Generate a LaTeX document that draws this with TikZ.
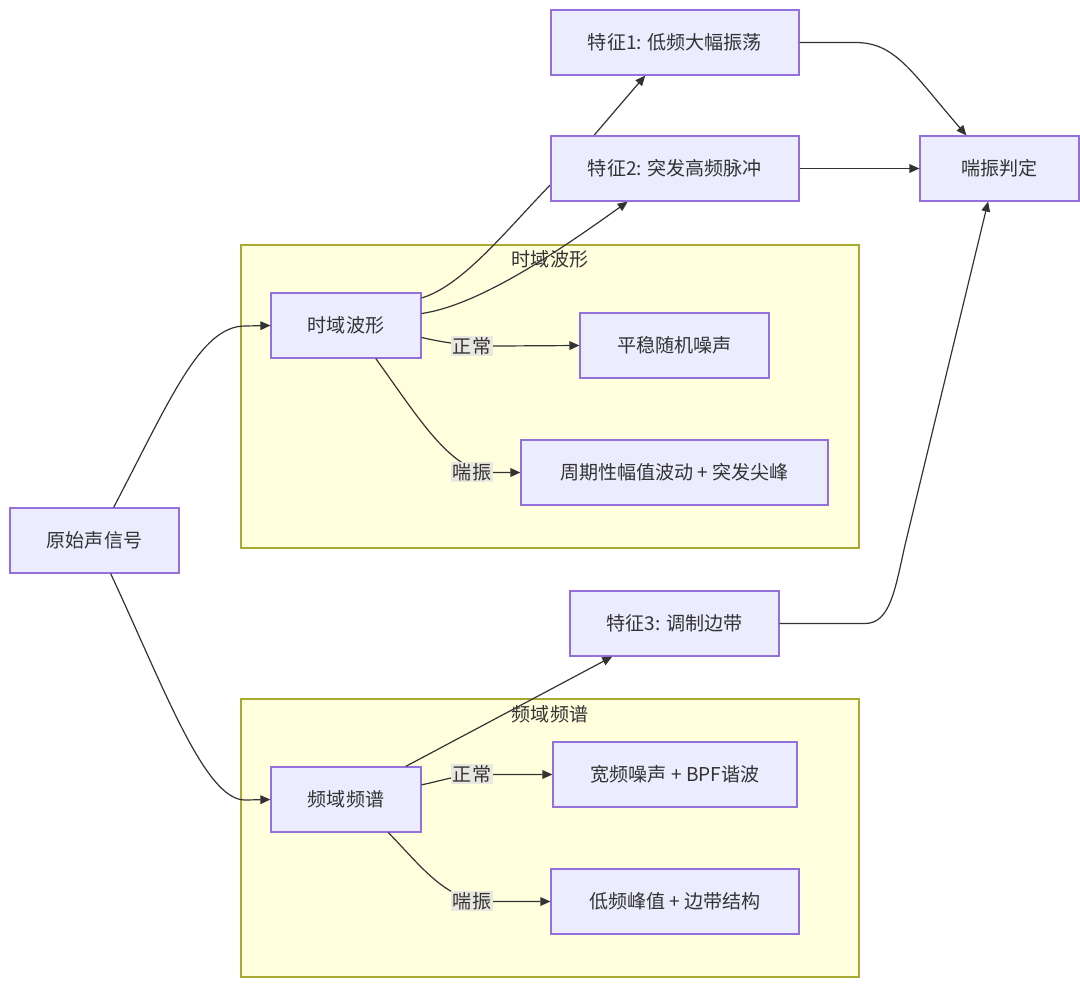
\documentclass[tikz,border=0pt]{standalone}
\usepackage{fontspec}
\setmainfont{Noto Sans CJK SC}
\usetikzlibrary{arrows.meta}
\definecolor{nodefill}{HTML}{ECECFF}
\definecolor{nodedraw}{HTML}{9370DB}
\definecolor{clfill}{HTML}{FFFFDE}
\definecolor{cldraw}{HTML}{AAAA33}
\definecolor{edgecol}{HTML}{333333}
\definecolor{lblfill}{HTML}{E8E8E0}
\tikzset{
  box/.style={draw=nodedraw, fill=nodefill, line width=0.9pt, minimum height=48.75pt, inner sep=0pt, text=edgecol, font=\fontsize{14.3}{17}\selectfont},
  cluster/.style={draw=cldraw, fill=clfill, line width=0.9pt},
  edge/.style={draw=edgecol, line width=0.9pt, -{Triangle[length=7.5pt,width=6.5pt]}},
  lbl/.style={fill=lblfill, inner sep=1.2pt, text=edgecol, font=\fontsize{14.3}{17}\selectfont},
  cltitle/.style={text=edgecol, inner sep=0pt, font=\fontsize{14.3}{17}\selectfont}
}
\begin{document}
\begin{tikzpicture}[x=0.75pt,y=-0.75pt]
\useasboundingbox (0,0) rectangle (1080,987);
% clusters
\draw[cluster] (241,245) rectangle (859,548);
\draw[cluster] (241,699) rectangle (859,977);
% nodes
\node[box, minimum width=126.75pt] (orig) at (94.5,540.5) {原始声信号};
\node[box, minimum width=112.5pt] (time) at (346,325.5) {时域波形};
\node[box, minimum width=141.75pt] (noise) at (674.5,345.5) {平稳随机噪声};
\node[box, minimum width=230.25pt] (per) at (674.5,472.5) {周期性幅值波动 + 突发尖峰};
\node[box, minimum width=186pt] (f1) at (675,42.5) {特征1: 低频大幅振荡};
\node[box, minimum width=186pt] (f2) at (675,168.5) {特征2: 突发高频脉冲};
\node[box, minimum width=119.25pt] (judge) at (999.5,168.5) {喘振判定};
\node[box, minimum width=156.75pt] (f3) at (674.5,623.5) {特征3: 调制边带};
\node[box, minimum width=112.5pt] (freq) at (346,799.5) {频域频谱};
\node[box, minimum width=183pt] (wide) at (675,774.5) {宽频噪声 + BPF谐波};
\node[box, minimum width=186pt] (low) at (675,901.5) {低频峰值 + 边带结构};
% edges
\path[edge] (orig.60) .. controls (170,400) and (200,326) .. (245,326) -- (time.west);
\path[edge] (orig.-64) .. controls (165,690) and (205,800) .. (245,800) -- (freq.west);
\path[edge] (time.20) .. controls (465,285) and (510,225) .. (560,175) -- (f1.228);
\path[edge] (time.9) .. controls (480,305) and (560,250) .. (f2.215);
\path[edge] (time.-9.5) .. controls (450,344) and (470,346) .. (500,346) -- (noise.west);
\path[edge] (time.-48) .. controls (420,420) and (450,470) .. (490,472.5) -- (per.west);
\path[edge] (f1.east) -- (855,42.5) .. controls (895,42.5) and (910,70) .. (judge.135);
\path[edge] (f2.east) -- (judge.west);
\path[edge] (f3.east) -- (865,623.5) .. controls (890,623.5) and (895,590) .. (905,545) -- (judge.251);
\path[edge] (freq.29) -- (f3.208);
\path[edge] (freq.11) .. controls (445,780) and (455,775) .. (485,774.5) -- (wide.west);
\path[edge] (freq.-38) .. controls (420,865) and (445,900) .. (485,901.5) -- (low.west);
% redraw node that hides an edge passing behind it
\node[box, minimum width=186pt] (f2top) at (f2) {特征2: 突发高频脉冲};
% edge labels
\node[lbl] (l1) at (472,346) {正常};
\node[lbl] (l2) at (472,472) {喘振};
\node[lbl] (l3) at (472,774) {正常};
\node[lbl] (l4) at (472,901) {喘振};
% cluster titles
\node[cltitle] (t1) at (550,259) {时域波形};
\node[cltitle] (t2) at (550,714) {频域频谱};
\end{tikzpicture}
\end{document}
